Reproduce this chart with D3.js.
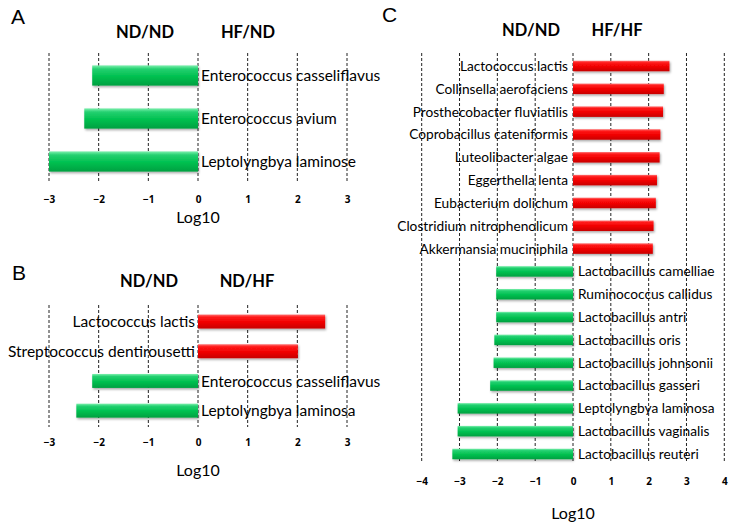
<!DOCTYPE html>
<html><head><meta charset="utf-8">
<script src="https://cdn.jsdelivr.net/npm/d3@7"></script>
<style>body{margin:0;background:#fff}svg{display:block}</style>
</head><body>
<svg id="c" width="742" height="532"></svg>
<script>
// Panel A
const catsA = ["Enterococcus casseliflavus","Enterococcus avium","Leptolyngbya laminose"];
const valsA = [-2.13,-2.29,-3.0];
// Panel B
const catsB = ["Lactococcus lactis","Streptococcus dentirousetti","Enterococcus casseliflavus","Leptolyngbya laminosa"];
const valsB = [2.56,2.01,-2.13,-2.45];
// Panel C
const catsC = ["Lactococcus lactis","Collinsella aerofaciens","Prosthecobacter fluviatilis","Coprobacillus cateniformis","Luteolibacter algae","Eggerthella lenta","Eubacterium dolichum","Clostridium nitrophenolicum","Akkermansia muciniphila","Lactobacillus camelliae","Ruminococcus callidus","Lactobacillus antri","Lactobacillus oris","Lactobacillus johnsonii","Lactobacillus gasseri","Leptolyngbya laminosa","Lactobacillus vaginalis","Lactobacillus reuteri"];
const valsC = [2.55,2.40,2.38,2.31,2.29,2.22,2.19,2.13,2.11,-2.03,-2.03,-2.03,-2.08,-2.10,-2.19,-3.05,-3.05,-3.19];
const ticksAB = [-3,-2,-1,0,1,2,3];
const ticksC = [-4,-3,-2,-1,0,1,2,3,4];

const svg = d3.select("#c");
const defs = svg.append("defs");
function grad(id, stops){
  const g = defs.append("linearGradient").attr("id",id).attr("x1",0).attr("y1",0).attr("x2",0).attr("y2",1);
  stops.forEach(s=>g.append("stop").attr("offset",s[0]).attr("stop-color",s[1]));
}
grad("gGreen",[[0,"#7ef0ae"],[0.18,"#22d070"],[0.55,"#00c050"],[1,"#00a040"]]);
grad("gRed",[[0,"#ff7070"],[0.18,"#ff1a1a"],[0.55,"#f00000"],[1,"#c80000"]]);
const f = defs.append("filter").attr("id","sh").attr("x","-5%").attr("y","-30%").attr("width","115%").attr("height","180%");
f.append("feDropShadow").attr("dx",1).attr("dy",1.5).attr("stdDeviation",1).attr("flood-color","#000").attr("flood-opacity",0.35);

const LAB = "Lato, 'Open Sans', sans-serif";

function panel(o){
  const g = svg.append("g");
  const x = d3.scaleLinear().domain(o.domain).range(o.xr);
  const y = d3.scaleBand().domain(o.cats).range(o.yr).padding(0);
  // grid
  g.selectAll(".grid").data(o.ticks).enter().append("line")
    .attr("x1",d=>x(d)).attr("x2",d=>x(d)).attr("y1",o.gy[0]).attr("y2",o.gy[1])
    .attr("stroke","#222").attr("stroke-width",1).attr("stroke-dasharray","3,2");
  // tick labels via axis
  const ax = g.append("g").attr("transform",`translate(0,${o.tickY})`)
    .call(d3.axisBottom(x).tickValues(o.ticks).tickSize(0).tickPadding(0).tickFormat(d3.format("d")));
  ax.select(".domain").remove();
  ax.selectAll("text").attr("font-family","'Open Sans', sans-serif").attr("font-weight","bold").attr("font-size",o.tickFs).attr("fill","#000").attr("dy","0");
  // bars
  const bh = y.bandwidth()*o.ratio;
  const data = o.cats.map((c,i)=>({c, v:o.vals[i]}));
  g.selectAll(".bar").data(data).enter().append("rect")
    .attr("x",d=>x(Math.min(0,d.v))).attr("width",d=>Math.abs(x(d.v)-x(0)))
    .attr("y",d=>y(d.c)+(y.bandwidth()-bh)/2).attr("height",bh)
    .attr("fill",d=>d.v<0?"url(#gGreen)":"url(#gRed)")
    .attr("filter","url(#sh)");
  // labels
  g.selectAll(".lab").data(data).enter().append("text")
    .attr("x",d=>d.v<0? x(0)+o.lpad : x(0)-o.lpad)
    .attr("y",d=>y(d.c)+y.bandwidth()/2).attr("dy","0.36em")
    .attr("text-anchor",d=>d.v<0?"start":"end")
    .attr("font-family",LAB).attr("font-size",o.labFs).attr("fill","#000")
    .text(d=>d.c);
  // headers
  g.append("text").attr("x",o.h1[0]).attr("y",o.h1[1]).attr("text-anchor","middle")
    .attr("font-family",LAB).attr("font-weight","bold").attr("font-size",16.5).text(o.h1[2]);
  g.append("text").attr("x",o.h2[0]).attr("y",o.h2[1]).attr("text-anchor","middle")
    .attr("font-family",LAB).attr("font-weight","bold").attr("font-size",16.5).text(o.h2[2]);
  // x title
  g.append("text").attr("x",x(0)).attr("y",o.titleY).attr("text-anchor","middle")
    .attr("font-family",LAB).attr("font-size",16).text("Log10");
  // panel letter
  g.append("text").attr("x",o.letter[0]).attr("y",o.letter[1])
    .attr("font-family","'Liberation Sans', Arial, sans-serif").attr("font-size",21).text(o.letter[2]);
}

panel({cats:catsA, vals:valsA, domain:[-3,3], xr:[49,347], yr:[54,183], ratio:0.47, gy:[53,183],
  ticks:ticksAB, tickY:203, tickFs:10, labFs:15.5, lpad:3, titleY:223,
  h1:[145,38,"ND/ND"], h2:[248,38,"HF/ND"], letter:[11,24,"A"]});
panel({cats:catsB, vals:valsB, domain:[-3,3], xr:[49,347], yr:[306.7,425.5], ratio:0.47, gy:[305,427],
  ticks:ticksAB, tickY:446, tickFs:10, labFs:15.5, lpad:3, titleY:476,
  h1:[149,287,"ND/ND"], h2:[247,287,"ND/HF"], letter:[12,280,"B"]});
panel({cats:catsC, vals:valsC, domain:[-4,4], xr:[421.7,724.3], yr:[54.6,465.4], ratio:0.46, gy:[53,463],
  ticks:ticksC, tickY:485, tickFs:10, labFs:13.7, lpad:5, titleY:519,
  h1:[531,36,"ND/ND"], h2:[617,36,"HF/HF"], letter:[382,22,"C"]});
</script>
</body></html>
